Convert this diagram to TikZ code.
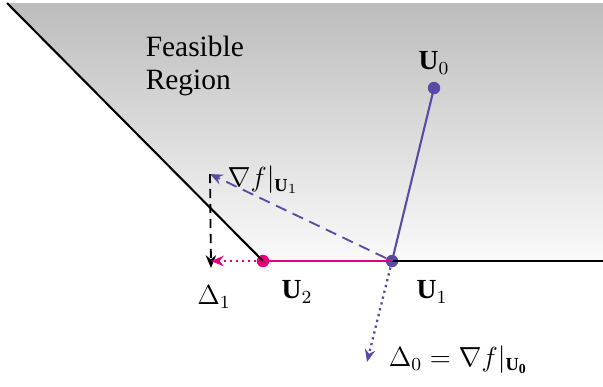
\documentclass[tikz,border=0pt]{standalone}
\usepackage{fontspec}
\setmainfont{Liberation Serif}
\usetikzlibrary{arrows.meta}
\definecolor{vpurple}{RGB}{92,72,165}
\definecolor{vmag}{RGB}{228,0,124}
\begin{document}
\begin{tikzpicture}[x=0.4348pt,y=-0.4348pt,
  font=\fontsize{12}{14.5}\selectfont,
  lbl/.style={inner sep=1pt},
  dotn/.style={circle,inner sep=0pt,minimum size=5.4pt},
  arr/.style={-{Stealth[length=5.5pt,width=4.5pt,inset=1.8pt]},line width=0.8pt}]
\useasboundingbox (0,0) rectangle (603,386);
\fill[top color=black!26,bottom color=black!2] (7,3) -- (603,3) -- (603,261) -- (263,261) -- cycle;
\coordinate (tl) at (7,3);
\coordinate (re) at (603,261);
\node[dotn,fill=vpurple] (U0) at (434,88) {};
\node[dotn,fill=vpurple] (U1) at (392,261) {};
\node[dotn,fill=vmag] (U2) at (263,261) {};
\coordinate (G) at (210,174);
\coordinate (D1) at (211,261);
\coordinate (D0) at (367,362);
\draw[line width=0.9pt] (tl) -- (U2.center);
\draw[line width=0.9pt] (U1.center) -- (re);
\draw[vmag,line width=1.2pt] (U2.center) -- (U1.center);
\draw[vpurple,line width=0.9pt] (U0.center) -- (U1.center);
\draw[vpurple,arr,dash pattern=on 5pt off 3pt] (U1) -- (G);
\draw[black,arr,dash pattern=on 4pt off 2.5pt] (G) -- ([yshift=-3pt]D1);
\draw[vmag,arr,line width=1pt,dash pattern=on 1pt off 1.6pt] (U2) -- (D1);
\draw[vpurple,arr,line width=1pt,dash pattern=on 1pt off 1.6pt] (U1) -- (D0);
\node[lbl,align=left,anchor=north west,font=\fontsize{12.8}{14.5}\selectfont] (FR) at (143,33) {Feasible\\Region};
\node[lbl] (lU0) at (434,63) {$\mathbf{U}_0$};
\node[lbl] (lU1) at (432,292) {$\mathbf{U}_1$};
\node[lbl] (lU2) at (297,292) {$\mathbf{U}_2$};
\node[lbl] (lD1) at (214,297) {$\Delta_1$};
\node[lbl] (lG) at (263,180) {$\nabla f|_{\mathbf{U}_1}$};
\node[lbl,anchor=west] (lD0) at (386,360) {$\Delta_0=\nabla f|_{\mathbf{U_0}}$};
\end{tikzpicture}
\end{document}
